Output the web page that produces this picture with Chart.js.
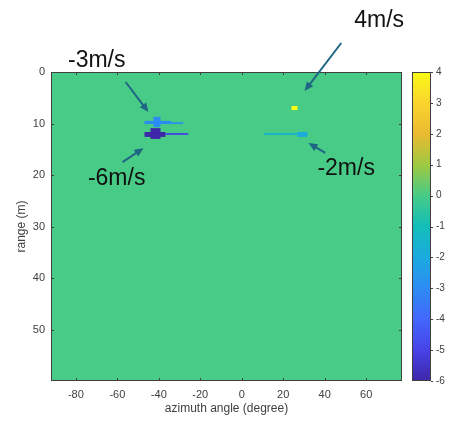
<!DOCTYPE html>
<html>
<head>
<meta charset="utf-8">
<script src="https://cdn.jsdelivr.net/npm/chart.js@4.4.0/dist/chart.umd.min.js"></script>
<style>
  html, body { margin: 0; padding: 0; background: #fff; }
  canvas { display: block; }
</style>
</head>
<body>
<canvas id="myChart" width="451" height="423"></canvas>
<script>
// datos: celdas del mapa (azimut en grados, rango en m, velocidad en m/s)
// la primera celda es el fondo (velocidad 0)
const azimutDesde = [-92, 10.6, 26.9, 24.0, -34.0, -46.9, -42.6, -36.8, -46.9, -44.0];
const azimutHasta = [77.3, 26.9, 31.7, 26.9, -28.2, -34.0, -39.2, -25.8, -36.8, -39.2];
const rangoDesde = [0, 11.85, 11.65, 6.6, 9.75, 9.5, 8.7, 11.85, 11.65, 10.9];
const rangoHasta = [60, 12.2, 12.6, 7.4, 10.1, 10.1, 10.7, 12.2, 12.6, 13.0];
const velocidad = [0, -1.7, -2, 4, -2.8, -3, -3, -5, -6, -6];

// ejes
const xTicks = [-80, -60, -40, -20, 0, 20, 40, 60];
const yTicks = [0, 10, 20, 30, 40, 50];
const cbTicks = [-6, -5, -4, -3, -2, -1, 0, 1, 2, 3, 4];

// anotaciones (texto y flechas)
const etiquetas = ['-3m/s', '-6m/s', '4m/s', '-2m/s'];
const etiquetaAz = [-83.8, -74.2, 54.25, 36.5];
const etiquetaRango = [-0.97, 21.9, -8.74, 20.0];
const flechaAzDesde = [-56.0, -57.5, 48.0, 40.3];
const flechaRangoDesde = [1.94, 17.5, -5.63, 15.7];
const flechaAzHasta = [-45.0, -47.4, 30.3, 32.2];
const flechaRangoHasta = [7.77, 14.8, 3.69, 13.8];

// mapa de colores (parula) de -6 a 4
const paleta = ['#3e26a8', '#4743e7', '#4367fd', '#2d8cf3', '#1caadf', '#12beb9',
  '#48cb86', '#9fc942', '#eaba31', '#fad42e', '#f9fb15'];

function hexARgb(h) {
  return [parseInt(h.substr(1, 2), 16), parseInt(h.substr(3, 2), 16), parseInt(h.substr(5, 2), 16)];
}

function colorDe(v) {
  let t = (v - cbTicks[0]) / (cbTicks[cbTicks.length - 1] - cbTicks[0]) * (paleta.length - 1);
  t = Math.max(0, Math.min(paleta.length - 1, t));
  const i = Math.min(Math.floor(t), paleta.length - 2);
  const f = t - i;
  const a = hexARgb(paleta[i]), b = hexARgb(paleta[i + 1]);
  const c = a.map((va, k) => Math.round(va + (b[k] - va) * f));
  return 'rgb(' + c.join(',') + ')';
}

const colorEje = '#404040';
const fuente = '"Liberation Sans", Arial, sans-serif';
Chart.defaults.font.family = fuente;

const pintarCeldas = {
  id: 'pintarCeldas',
  beforeDatasetsDraw(chart) {
    const { ctx, chartArea, scales: { x, y } } = chart;
    ctx.save();
    ctx.beginPath();
    ctx.rect(chartArea.left, chartArea.top, chartArea.width, chartArea.height);
    ctx.clip();
    for (let i = 0; i < velocidad.length; i++) {
      const x0 = x.getPixelForValue(azimutDesde[i]);
      const x1 = x.getPixelForValue(azimutHasta[i]);
      const y0 = y.getPixelForValue(rangoDesde[i]);
      const y1 = y.getPixelForValue(rangoHasta[i]);
      ctx.fillStyle = colorDe(velocidad[i]);
      ctx.fillRect(Math.min(x0, x1), Math.min(y0, y1), Math.abs(x1 - x0), Math.abs(y1 - y0));
    }
    ctx.restore();
  },
  afterDatasetsDraw(chart) {
    const { ctx, chartArea: a, scales: { x, y, cb } } = chart;
    ctx.save();
    ctx.strokeStyle = colorEje;
    ctx.lineWidth = 1;
    ctx.strokeRect(a.left + 0.5, a.top + 0.5, a.width - 1, a.height - 1);
    ctx.beginPath();
    x.ticks.forEach(t => {
      const px = Math.round(x.getPixelForValue(t.value)) + 0.5;
      ctx.moveTo(px, a.top); ctx.lineTo(px, a.top + 3);
      ctx.moveTo(px, a.bottom); ctx.lineTo(px, a.bottom - 3);
    });
    y.ticks.forEach(t => {
      const py = Math.round(y.getPixelForValue(t.value)) + 0.5;
      ctx.moveTo(a.left, py); ctx.lineTo(a.left + 3, py);
      ctx.moveTo(a.right, py); ctx.lineTo(a.right - 3, py);
    });
    ctx.stroke();

    // barra de colores
    const cx0 = a.right + 10, cw = 19;
    const top = cb.getPixelForValue(cbTicks[cbTicks.length - 1]);
    const bottom = cb.getPixelForValue(cbTicks[0]);
    const grad = ctx.createLinearGradient(0, bottom, 0, top);
    paleta.forEach((c, i) => grad.addColorStop(i / (paleta.length - 1), c));
    ctx.fillStyle = grad;
    ctx.fillRect(cx0, top, cw, bottom - top);
    ctx.strokeRect(cx0 + 0.5, top + 0.5, cw - 1, bottom - top - 1);
    ctx.beginPath();
    cb.ticks.forEach(t => {
      const py = Math.round(cb.getPixelForValue(t.value)) + 0.5;
      ctx.moveTo(cx0 + cw, py); ctx.lineTo(cx0 + cw + 2, py);
    });
    ctx.stroke();
    ctx.restore();
  },
  afterDraw(chart) {
    const { ctx, scales: { x, y } } = chart;
    ctx.save();
    const colorFlecha = '#1f6684';
    for (let i = 0; i < etiquetas.length; i++) {
      const x0 = x.getPixelForValue(flechaAzDesde[i]);
      const y0 = y.getPixelForValue(flechaRangoDesde[i]);
      const x1 = x.getPixelForValue(flechaAzHasta[i]);
      const y1 = y.getPixelForValue(flechaRangoHasta[i]);
      const ang = Math.atan2(y1 - y0, x1 - x0);
      const largo = 9, ancho = 4;
      ctx.strokeStyle = colorFlecha;
      ctx.fillStyle = colorFlecha;
      ctx.lineWidth = 2;
      ctx.beginPath();
      ctx.moveTo(x0, y0);
      ctx.lineTo(x1 - Math.cos(ang) * largo * 0.8, y1 - Math.sin(ang) * largo * 0.8);
      ctx.stroke();
      ctx.beginPath();
      ctx.moveTo(x1, y1);
      ctx.lineTo(x1 - Math.cos(ang) * largo - Math.sin(ang) * ancho, y1 - Math.sin(ang) * largo + Math.cos(ang) * ancho);
      ctx.lineTo(x1 - Math.cos(ang) * largo + Math.sin(ang) * ancho, y1 - Math.sin(ang) * largo - Math.cos(ang) * ancho);
      ctx.closePath();
      ctx.fill();

      ctx.fillStyle = '#111';
      ctx.font = '23px ' + fuente;
      ctx.textAlign = 'left';
      ctx.textBaseline = 'alphabetic';
      ctx.fillText(etiquetas[i], x.getPixelForValue(etiquetaAz[i]), y.getPixelForValue(etiquetaRango[i]));
    }
    ctx.restore();
  }
};

const estiloTicks = { color: colorEje, font: { size: 11 }, autoSkip: false, maxRotation: 0 };
const sinRejilla = { display: false, drawTicks: false, tickLength: 0 };

new Chart(document.getElementById('myChart'), {
  type: 'scatter',
  data: { datasets: [{ data: [] }] },
  options: {
    responsive: false,
    animation: false,
    events: [],
    layout: { padding: { top: 72, left: 0, right: 0, bottom: 0 } },
    plugins: { legend: { display: false }, tooltip: { enabled: false } },
    scales: {
      x: {
        type: 'linear',
        min: azimutDesde[0],
        max: azimutHasta[0],
        afterBuildTicks: s => { s.ticks = xTicks.map(v => ({ value: v })); },
        afterFit: s => { s.height = 42; },
        grid: sinRejilla,
        border: { display: false },
        ticks: { ...estiloTicks, padding: 7 },
        title: { display: true, text: 'azimuth angle (degree)', color: colorEje, font: { size: 12 }, padding: { top: 0, bottom: 7 } }
      },
      y: {
        type: 'linear',
        reverse: true,
        min: rangoDesde[0],
        max: rangoHasta[0],
        afterBuildTicks: s => { s.ticks = yTicks.map(v => ({ value: v })); },
        afterFit: s => { s.width = 51; },
        grid: sinRejilla,
        border: { display: false },
        ticks: { ...estiloTicks, padding: 6 },
        title: { display: true, text: 'range (m)', color: colorEje, font: { size: 12 }, padding: { top: 14, bottom: 0 } }
      },
      cb: {
        axis: 'y',
        type: 'linear',
        position: 'right',
        min: cbTicks[0],
        max: cbTicks[cbTicks.length - 1],
        afterBuildTicks: s => { s.ticks = cbTicks.map(v => ({ value: v })); },
        afterFit: s => { s.width = 49; },
        grid: sinRejilla,
        border: { display: false },
        ticks: { ...estiloTicks, font: { size: 10 }, padding: 34 }
      }
    }
  },
  plugins: [pintarCeldas]
});
</script>
</body>
</html>
